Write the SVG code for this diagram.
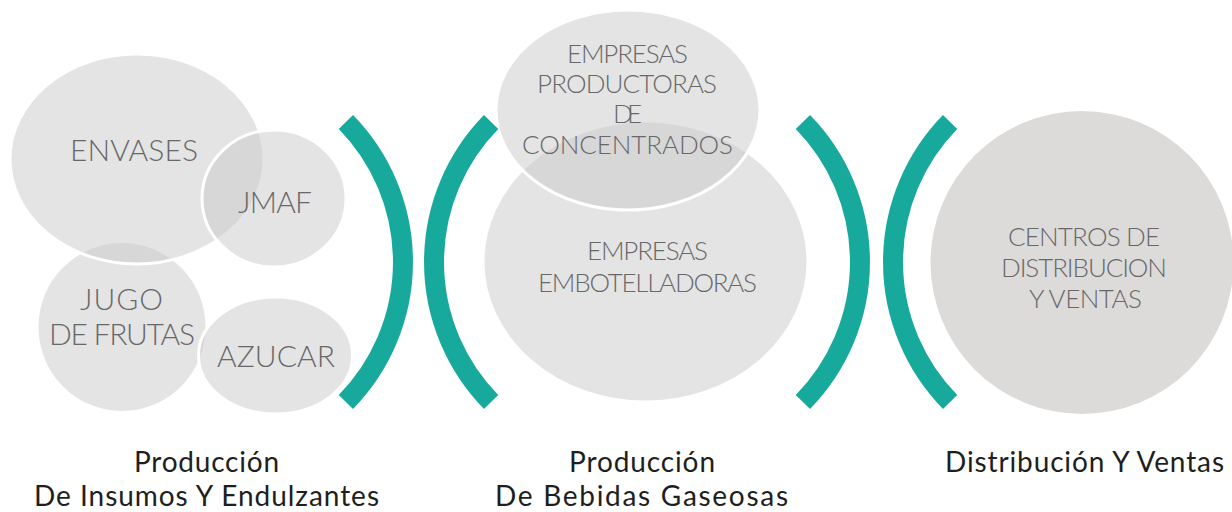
<svg xmlns="http://www.w3.org/2000/svg" width="1232" height="512" viewBox="0 0 1232 512">
<style>
.bub{fill:#c9c9c9;fill-opacity:.5;stroke:#ffffff;stroke-width:3}
.end{fill:#dcdbd9}
.lbl{font-family:Lato,"Liberation Sans",sans-serif;font-weight:300;fill:#68686a}
.big{font-size:30px}
.mid{font-size:26px}
.cap{font-family:Lato,"Liberation Sans",sans-serif;font-size:28px;fill:#1e1e1e}
.arc{fill:none;stroke:#18a99d;stroke-width:20}
</style>
<rect width="1232" height="512" fill="#ffffff"/>

<g id="jugo">
<ellipse class="bub" cx="122" cy="327" rx="85" ry="85.5"/>
<text class="lbl big" x="80" y="310" textLength="83" lengthAdjust="spacing">JUGO</text>
<text class="lbl big" x="49" y="345" textLength="146" lengthAdjust="spacing">DE FRUTAS</text>
</g>
<g id="envases">
<ellipse class="bub" cx="137" cy="159" rx="127" ry="105"/>
<text class="lbl big" x="70" y="161" textLength="128" lengthAdjust="spacing">ENVASES</text>
</g>
<g id="jmaf">
<ellipse class="bub" cx="274" cy="198.5" rx="72" ry="68.5"/>
<text class="lbl big" x="238" y="213" textLength="74" lengthAdjust="spacing">JMAF</text>
</g>
<g id="azucar">
<ellipse class="bub" cx="275.5" cy="355.5" rx="77" ry="58.5"/>
<text class="lbl big" x="217" y="367" textLength="118" lengthAdjust="spacing">AZUCAR</text>
</g>

<g id="embotelladoras">
<ellipse class="bub" cx="645.5" cy="261.5" rx="162.5" ry="140.5"/>
<text class="lbl mid" x="587" y="260" textLength="121" lengthAdjust="spacing">EMPRESAS</text>
<text class="lbl mid" x="538" y="292" textLength="219" lengthAdjust="spacing">EMBOTELLADORAS</text>
</g>
<g id="productoras">
<ellipse class="bub" cx="628" cy="110" rx="132" ry="100"/>
<text class="lbl mid" x="567" y="63" textLength="121" lengthAdjust="spacing">EMPRESAS</text>
<text class="lbl mid" x="537" y="93" textLength="180" lengthAdjust="spacing">PRODUCTORAS</text>
<text class="lbl mid" x="613" y="123" textLength="29" lengthAdjust="spacing">DE</text>
<text class="lbl mid" x="522" y="154" textLength="211" lengthAdjust="spacing">CONCENTRADOS</text>
</g>

<g id="centros">
<circle class="end" cx="1082" cy="262.5" r="151.5"/>
<text class="lbl mid" x="1008" y="246" textLength="152" lengthAdjust="spacing">CENTROS DE</text>
<text class="lbl mid" x="1001" y="277" textLength="166" lengthAdjust="spacing">DISTRIBUCION</text>
<text class="lbl mid" x="1029" y="308" textLength="113" lengthAdjust="spacing">Y VENTAS</text>
</g>

<g id="connectors">
<path class="arc" d="M345.9,122.1 A200,200 0 0 1 345.9,401.9"/>
<path class="arc" d="M491.1,122.1 A200,200 0 0 0 491.1,401.9"/>
<path class="arc" d="M802.9,122.1 A200,200 0 0 1 802.9,401.9"/>
<path class="arc" d="M950.1,122.1 A200,200 0 0 0 950.1,401.9"/>
</g>

<g id="stage-labels">
<text class="cap" x="134" y="472" textLength="145" lengthAdjust="spacing">Producción</text>
<text class="cap" x="34" y="506" textLength="345" lengthAdjust="spacing">De Insumos Y Endulzantes</text>
<text class="cap" x="569" y="472" textLength="146" lengthAdjust="spacing">Producción</text>
<text class="cap" x="495" y="506" textLength="293" lengthAdjust="spacing">De Bebidas Gaseosas</text>
<text class="cap" x="945" y="472" textLength="279" lengthAdjust="spacing">Distribución Y Ventas</text>
</g>
</svg>
